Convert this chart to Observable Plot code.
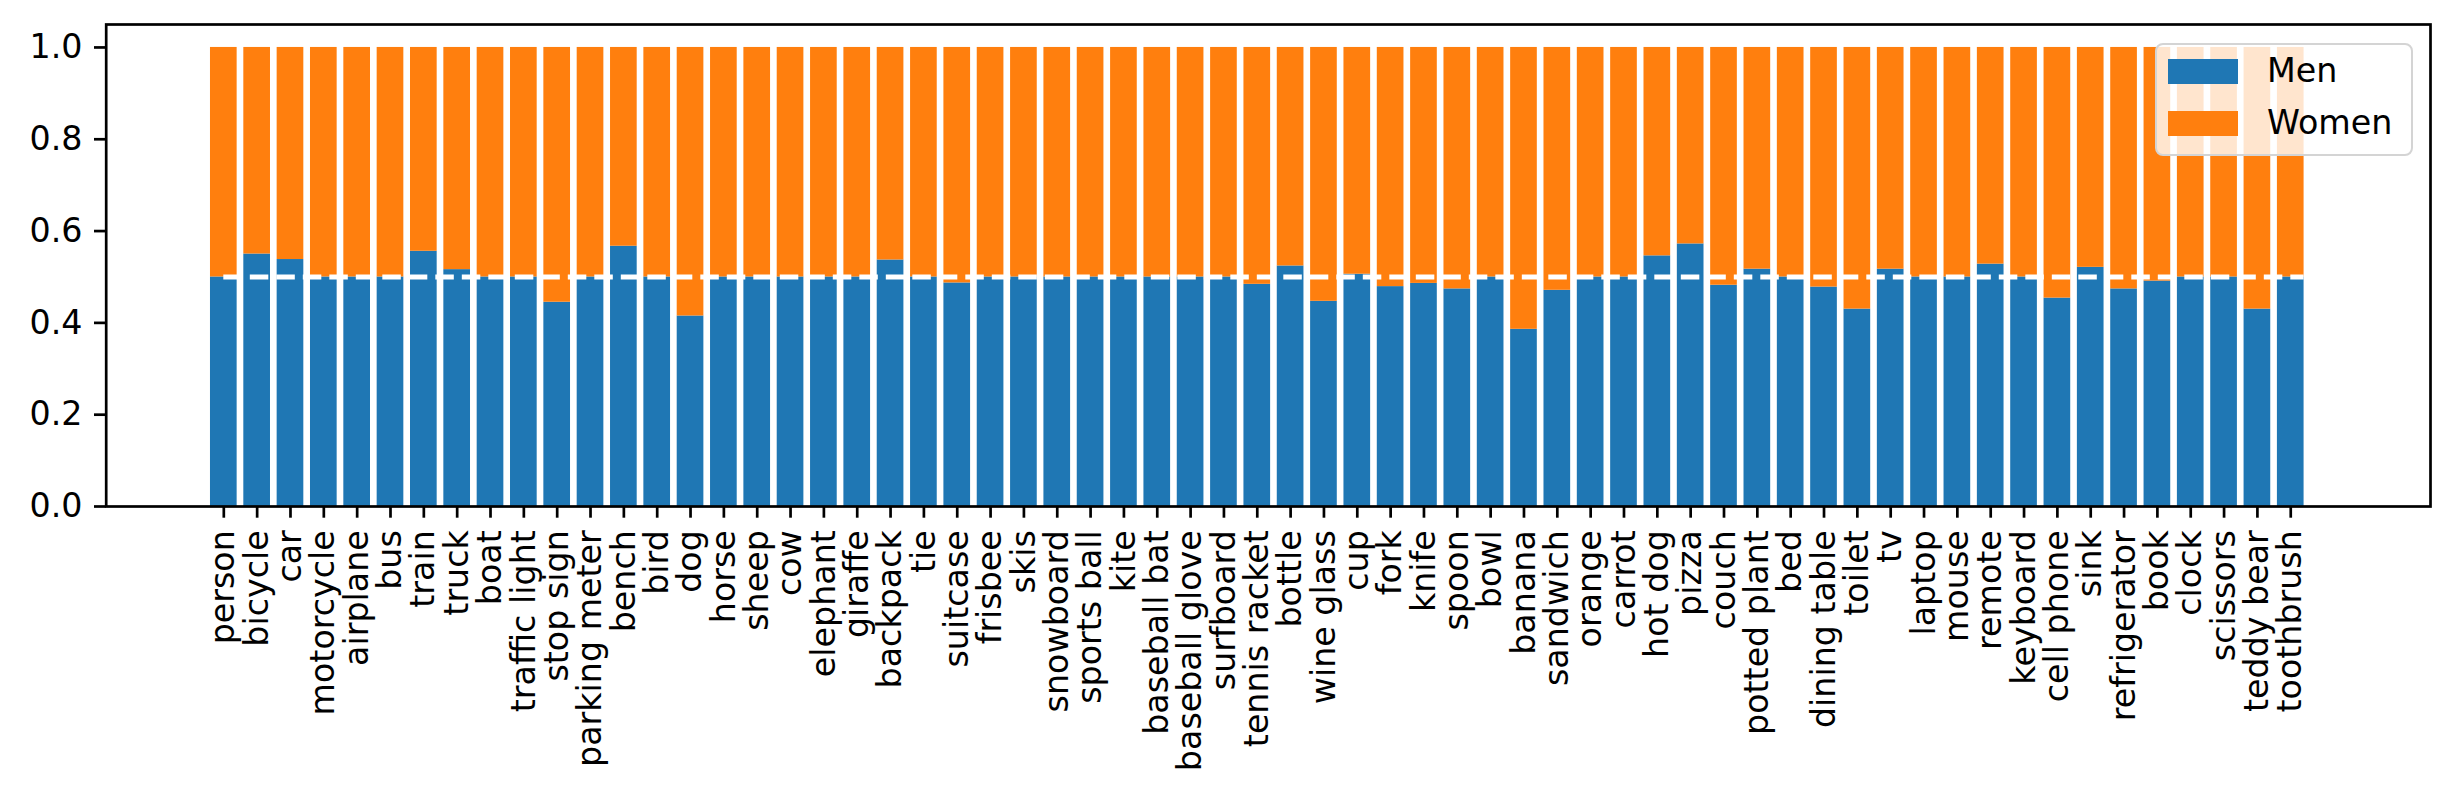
<!DOCTYPE html>
<html>
<head>
<meta charset="utf-8">
<script src="https://cdn.jsdelivr.net/npm/d3@7"></script>
<script src="https://cdn.jsdelivr.net/npm/@observablehq/plot@0.6"></script>
<style>
  html, body { margin: 0; padding: 0; background: #fff; }
  #wrap { position: relative; width: 2454px; height: 806px; overflow: hidden; }
  .legend {
    position: absolute; left: 2155px; top: 43px; width: 258px; height: 113px;
    box-sizing: border-box; background: rgba(255,255,255,0.8);
    border: 2.5px solid #d4d4d4; border-radius: 8px;
    font-family: "DejaVu Sans", sans-serif; font-size: 33.3px; color: #000;
  }
  .legend .sw { position: absolute; left: 11px; width: 70px; height: 25px; }
  .legend .lb { position: absolute; left: 110px; line-height: 40px; }
</style>
</head>
<body>
<div id="wrap"></div>
<script>
// Categories (COCO object classes shown)
const categories = [
  "person", "bicycle", "car", "motorcycle", "airplane", "bus", "train", "truck", "boat",
  "traffic light", "stop sign", "parking meter", "bench", "bird", "dog", "horse", "sheep",
  "cow", "elephant", "giraffe", "backpack", "tie", "suitcase", "frisbee", "skis", "snowboard",
  "sports ball", "kite", "baseball bat", "baseball glove", "surfboard", "tennis racket",
  "bottle", "wine glass", "cup", "fork", "knife", "spoon", "bowl", "banana", "sandwich",
  "orange", "carrot", "hot dog", "pizza", "couch", "potted plant", "bed", "dining table",
  "toilet", "tv", "laptop", "mouse", "remote", "keyboard", "cell phone", "sink",
  "refrigerator", "book", "clock", "scissors", "teddy bear", "toothbrush"
];

// Share of Men per category
const menShare = [
  0.500, 0.550, 0.538, 0.500, 0.500, 0.500, 0.556, 0.516, 0.500,
  0.500, 0.445, 0.500, 0.567, 0.500, 0.415, 0.500, 0.500,
  0.500, 0.500, 0.500, 0.537, 0.500, 0.487, 0.500, 0.500, 0.500,
  0.500, 0.500, 0.500, 0.500, 0.500, 0.484,
  0.524, 0.447, 0.506, 0.479, 0.486, 0.474, 0.500, 0.386, 0.471,
  0.500, 0.500, 0.546, 0.572, 0.482, 0.517, 0.500, 0.478,
  0.430, 0.517, 0.500, 0.500, 0.528, 0.500, 0.454, 0.521,
  0.474, 0.491, 0.500, 0.500, 0.430, 0.500
];

// Share of Women per category (stacked on top of Men, reaching 1.0)
const womenShare = [
  0.500, 0.450, 0.462, 0.500, 0.500, 0.500, 0.444, 0.484, 0.500,
  0.500, 0.555, 0.500, 0.433, 0.500, 0.585, 0.500, 0.500,
  0.500, 0.500, 0.500, 0.463, 0.500, 0.513, 0.500, 0.500, 0.500,
  0.500, 0.500, 0.500, 0.500, 0.500, 0.516,
  0.476, 0.553, 0.494, 0.521, 0.514, 0.526, 0.500, 0.614, 0.529,
  0.500, 0.500, 0.454, 0.428, 0.518, 0.483, 0.500, 0.522,
  0.570, 0.483, 0.500, 0.500, 0.472, 0.500, 0.546, 0.479,
  0.526, 0.509, 0.500, 0.500, 0.570, 0.500
];

const seriesNames = ["Men", "Women"];
const seriesColors = ["#1f77b4", "#ff7f0e"];
const yTicks = [0.0, 0.2, 0.4, 0.6, 0.8, 1.0];
const parityLevel = 0.5;

// Long-format table: Men first so they sit at the bottom of each stack
const rows = [];
categories.forEach((c, i) => {
  rows.push({cat: c, series: seriesNames[0], value: menShare[i], order: 0});
  rows.push({cat: c, series: seriesNames[1], value: womenShare[i], order: 1});
});

const W = 2454, H = 806;
const mL = 105.7, mR = 24, mT = 24, mB = 300;
const padInner = 0.2, padOuter = 3.46;
const step = (W - mL - mR) / (categories.length - padInner + 2 * padOuter);
const bandW = step * (1 - padInner);

const chart = Plot.plot({
  width: W,
  height: H,
  marginLeft: mL,
  marginRight: mR,
  marginTop: mT,
  marginBottom: mB,
  style: {fontFamily: "'DejaVu Sans', sans-serif", fontSize: "33.3px", background: "white", color: "black"},
  x: {type: "band", domain: categories, paddingInner: padInner, paddingOuter: padOuter, align: 0.452, round: false, label: null},
  y: {domain: [0, 1.05], label: null},
  color: {domain: seriesNames, range: seriesColors},
  marks: [
    Plot.barY(rows, Plot.stackY({x: "cat", y: "value", fill: "series", order: "order"})),
    Plot.ruleY([{y: parityLevel, a: categories[0], b: categories[categories.length - 1]}], {
      y: "y", x1: "a", x2: "b", insetLeft: bandW / 2,
      stroke: "white", strokeWidth: 5, strokeDasharray: "18.5,8"
    }),
    Plot.axisY({ticks: yTicks, tickFormat: d3.format(".1f"), tickSize: 11.7, tickPadding: 12, strokeWidth: 2.7, fontSize: 33.3, label: null}),
    Plot.axisX({tickRotate: -90, tickSize: 11.7, tickPadding: 12, strokeWidth: 2.7, fontSize: 33.3, label: null}),
    Plot.frame({stroke: "black", strokeWidth: 2.7})
  ]
});

const wrap = document.getElementById("wrap");
wrap.appendChild(chart);

// Legend (upper right inside the axes)
const legend = document.createElement("div");
legend.className = "legend";
seriesNames.forEach((name, i) => {
  const sw = document.createElement("div");
  sw.className = "sw";
  sw.style.top = (14 + i * 52) + "px";
  sw.style.background = seriesColors[i];
  legend.appendChild(sw);
  const lb = document.createElement("div");
  lb.className = "lb";
  lb.style.top = (6 + i * 52) + "px";
  lb.textContent = name;
  legend.appendChild(lb);
});
wrap.appendChild(legend);
</script>
</body>
</html>
